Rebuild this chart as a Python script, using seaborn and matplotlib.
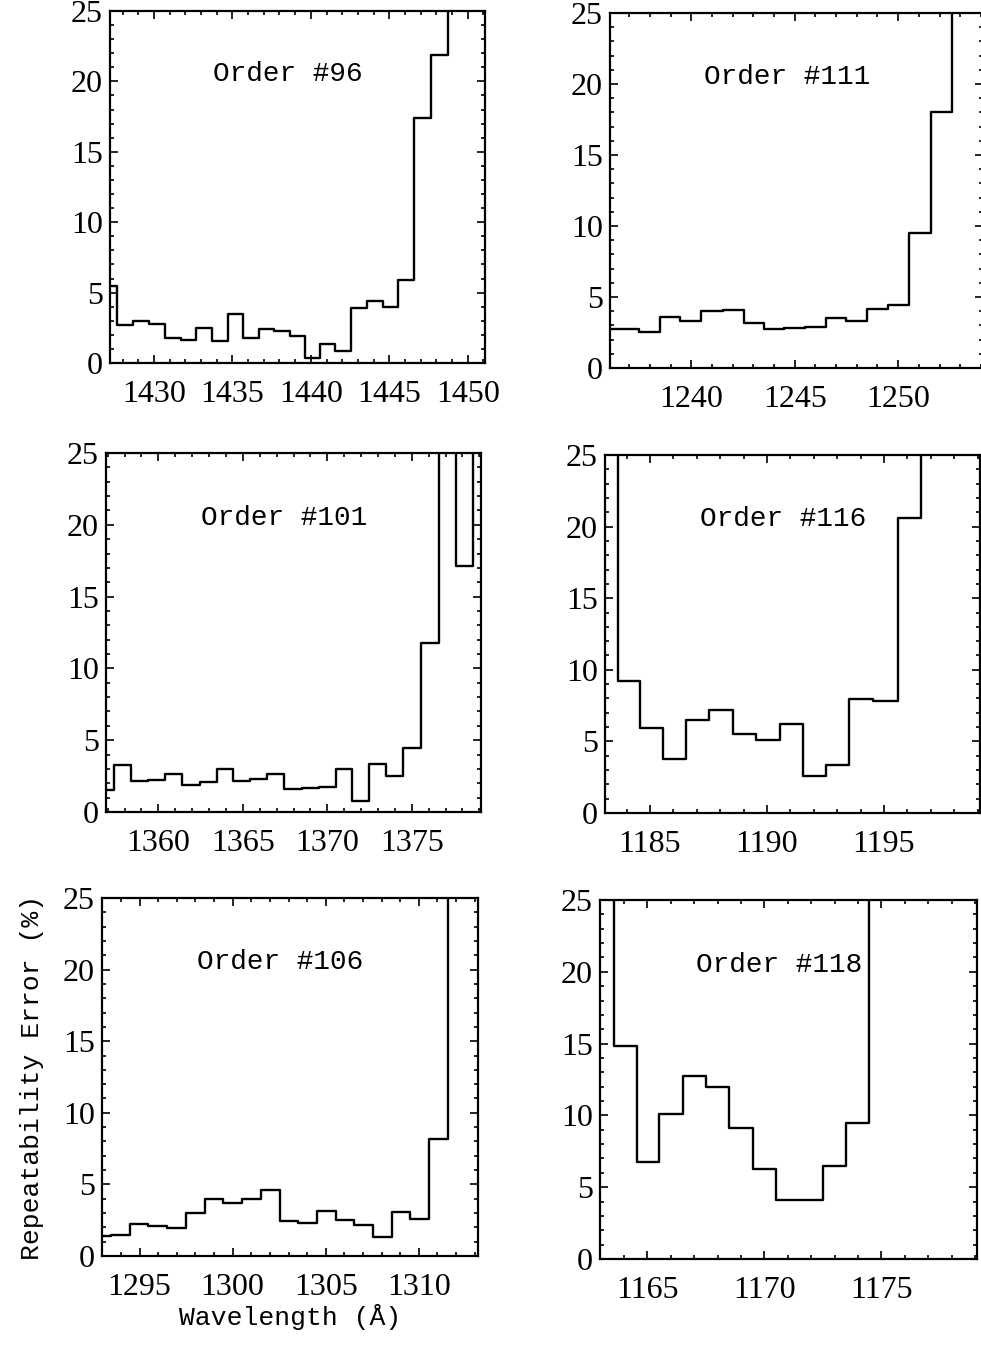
import matplotlib
matplotlib.use("Agg")
import matplotlib.pyplot as plt
from matplotlib.ticker import MultipleLocator, FixedLocator
import seaborn as sns
import pandas as pd

# Repeatability error (%) per ~1 A wavelength bin, bin centres in Angstrom.
# Values above 25 run off the top of the plotted range.
order96_wave = [1427.10, 1428.15, 1429.20, 1430.18, 1431.19, 1432.20, 1433.20, 1434.20,
                1435.19, 1436.17, 1437.18, 1438.17, 1439.12, 1440.08, 1441.05, 1442.06,
                1443.08, 1444.09, 1445.07, 1446.07, 1447.13, 1448.20, 1449.25, 1450.30,
                1451.35]
order96_err = [5.5, 2.7, 3.0, 2.8, 1.75, 1.6, 2.5, 1.55,
               3.5, 1.8, 2.4, 2.25, 1.95, 0.37, 1.35, 0.83,
               3.9, 4.4, 4.0, 5.9, 17.4, 21.9, 30.0, 30.0,
               30.0]

order111_wave = [1235.98, 1236.98, 1237.98, 1238.96, 1239.96, 1241.00, 1242.03, 1243.02,
                 1244.00, 1245.00, 1246.00, 1247.00, 1248.00, 1249.00, 1250.03, 1251.05,
                 1252.10, 1253.15, 1254.20]
order111_err = [2.76, 2.76, 2.5, 3.57, 3.3, 4.0, 4.1, 3.16,
                2.76, 2.83, 2.88, 3.5, 3.34, 4.17, 4.45, 9.5,
                18.0, 30.0, 30.0]

order101_wave = [1356.88, 1357.90, 1358.90, 1359.90, 1360.90, 1361.95, 1362.96, 1363.95,
                 1364.94, 1365.92, 1366.94, 1367.97, 1368.98, 1369.98, 1371.00, 1371.98,
                 1372.98, 1373.99, 1375.02, 1376.08, 1377.12, 1378.12, 1379.10]
order101_err = [1.5, 3.26, 2.16, 2.2, 2.64, 1.88, 2.1, 2.98,
                2.16, 2.3, 2.68, 1.58, 1.65, 1.72, 3.0, 0.78,
                3.33, 2.5, 4.45, 11.74, 30.0, 17.1, 30.0]

order116_wave = [1183.15, 1184.11, 1185.05, 1186.04, 1187.04, 1188.03, 1189.03, 1190.03,
                 1191.04, 1192.03, 1193.02, 1194.03, 1195.06, 1196.10, 1197.10, 1198.10,
                 1199.10]
order116_err = [30.0, 9.19, 5.93, 3.8, 6.48, 7.2, 5.5, 5.1,
                6.2, 2.6, 3.36, 7.96, 7.85, 20.6, 30.0, 30.0,
                30.0]

order106_wave = [1292.96, 1293.96, 1294.97, 1295.98, 1296.98, 1297.99, 1299.00, 1300.00,
                 1301.00, 1302.02, 1303.02, 1304.04, 1305.04, 1306.03, 1307.03, 1308.03,
                 1309.04, 1310.05, 1311.07, 1312.07, 1313.07]
order106_err = [1.4, 1.45, 2.2, 2.1, 1.98, 3.0, 4.0, 3.7,
                3.95, 4.6, 2.44, 2.33, 3.14, 2.49, 2.14, 1.35,
                3.09, 2.6, 8.14, 30.0, 30.0]

order118_wave = [1163.08, 1164.06, 1165.03, 1166.01, 1167.00, 1168.00, 1169.00, 1170.00,
                 1171.00, 1172.00, 1173.00, 1173.97, 1174.97, 1175.97, 1176.97, 1177.97,
                 1178.97, 1179.97]
order118_err = [30.0, 14.8, 6.78, 10.1, 12.77, 12.0, 9.09, 6.25,
                4.08, 4.08, 6.48, 9.44, 30.0, 30.0, 30.0, 30.0,
                30.0, 30.0]

order_labels = ["Order #96", "Order #111", "Order #101",
                "Order #116", "Order #106", "Order #118"]
x_ticks = [[1430, 1435, 1440, 1445, 1450],
           [1240, 1245, 1250],
           [1360, 1365, 1370, 1375],
           [1185, 1190, 1195],
           [1295, 1300, 1305, 1310],
           [1165, 1170, 1175]]
x_limits = [(1427.2, 1451.1), (1236.07, 1254.1), (1356.9, 1379.1),
            (1183.08, 1199.1), (1292.98, 1313.18), (1162.98, 1179.08)]
y_ticks = [0, 5, 10, 15, 20, 25]

series = [(order96_wave, order96_err), (order111_wave, order111_err),
          (order101_wave, order101_err), (order116_wave, order116_err),
          (order106_wave, order106_err), (order118_wave, order118_err)]

sns.set_theme(style="ticks")
plt.rcParams["font.family"] = ["Liberation Serif", "DejaVu Serif"]

W, H = 981, 1345
fig = plt.figure(figsize=(W / 100, H / 100), dpi=100)

# panel boxes in pixels: left, right, top, bottom
boxes = [(110, 485, 11, 363), (610, 983, 13, 368),
         (106, 481, 453, 812), (605, 980, 455, 813),
         (102, 478, 898, 1256), (600, 977, 900, 1259)]

mono = ["Liberation Mono", "DejaVu Sans Mono"]

for i, (box, (wave, err)) in enumerate(zip(boxes, series)):
    l, r, t, b = box
    ax = fig.add_axes([l / W, 1 - b / H, (r - l) / W, (b - t) / H])
    df = pd.DataFrame({"wavelength": wave, "error": err})
    sns.lineplot(data=df, x="wavelength", y="error", ax=ax, color="black",
                 linewidth=1.7, drawstyle="steps-mid", estimator=None)
    ax.set_xlim(*x_limits[i])
    ax.set_ylim(0, 25)
    ax.xaxis.set_major_locator(FixedLocator(x_ticks[i]))
    ax.xaxis.set_minor_locator(MultipleLocator(1))
    ax.yaxis.set_major_locator(FixedLocator(y_ticks))
    ax.yaxis.set_minor_locator(MultipleLocator(1))
    ax.tick_params(which="both", direction="in", top=True, right=True,
                   width=1.2, color="black", labelcolor="black")
    ax.tick_params(which="major", length=5.5, labelsize=23)
    ax.tick_params(which="minor", length=2.8)
    ax.tick_params(axis="x", which="major", pad=12)
    ax.tick_params(axis="y", which="major", pad=5)
    for s in ax.spines.values():
        s.set_linewidth(1.6)
        s.set_color("black")
    ax.set_xlabel("")
    ax.set_ylabel("")
    ax.text(0.475, 0.82, order_labels[i], transform=ax.transAxes,
            ha="center", va="center", fontsize=20, family=mono, color="black")
    if i == 4:
        ax.set_xlabel("Wavelength (Å)", fontsize=19, family=mono, labelpad=2,
                      color="black")
        ax.set_ylabel("Repeatability Error (%)", fontsize=19, family=mono,
                      labelpad=14, color="black")

fig.savefig("out.png", dpi=100)
